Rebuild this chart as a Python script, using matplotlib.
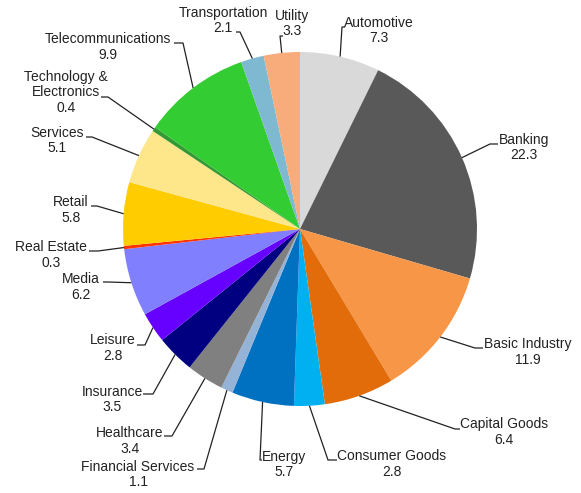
import numpy as np
import matplotlib.pyplot as plt

plt.rcParams['font.family'] = ['Liberation Sans', 'DejaVu Sans']

W, H = 581, 493

sectors = ['Automotive', 'Banking', 'Basic Industry', 'Capital Goods', 'Consumer Goods',
           'Energy', 'Financial Services', 'Healthcare', 'Insurance', 'Leisure', 'Media',
           'Real Estate', 'Retail', 'Services', 'Technology &\nElectronics',
           'Telecommunications', 'Transportation', 'Utility']
weights = [7.3, 22.3, 11.9, 6.4, 2.8, 5.7, 1.1, 3.4, 3.5, 2.8, 6.2, 0.3, 5.8, 5.1, 0.4,
           9.9, 2.1, 3.3]
colors = ['#d9d9d9', '#595959', '#f79646', '#e36c0a', '#00b0f0', '#0070c0', '#95b3d7',
          '#808080', '#000080', '#6600ff', '#8080ff', '#ff3300', '#ffcc00', '#fee68a',
          '#339933', '#33cc33', '#7eb9d1', '#f8ab7b']

# label placement in pixels: text centre x, text centre y, elbow x, elbow y, stub end x
label_pos = [
    (379, 30.5, 342, 27, 345),
    (524, 147.5, 490, 144, 498),
    (528, 352, 475, 348, 483),
    (504, 432, 455, 429, 460),
    (392, 464, 328, 460, 337),
    (284, 464.5, 260, 460, 262),
    (138, 474.5, 204, 469, 197),
    (130, 441, 172, 436, 164),
    (112, 399.5, 153, 394, 143),
    (113, 348, 145, 345, 137),
    (81, 287, 108, 282, 103),
    (51, 255, 98, 251, 89),
    (71, 210, 97, 206, 91),
    (57, 140.5, 92, 137, 86),
    (66, 92.5, 108, 97, 101),
    (108, 47, 183, 43, 174),
    (223, 20.5, 240, 32, 236),
    (292, 23.5, 280, 36, 283),
]

cx, cy, r = 300, H - 229, 177

fig = plt.figure(figsize=(W / 100, H / 100), dpi=100)
ax = fig.add_axes([0, 0, 1, 1])
wedges, _ = ax.pie(weights, colors=colors, startangle=90, counterclock=False,
                   center=(cx, cy), radius=r, wedgeprops=dict(linewidth=0))
ax.set_xlim(0, W)
ax.set_ylim(0, H)
ax.set_aspect('equal')
ax.axis('off')

for w, name, val, (tx, ty, ex, ey, sx) in zip(wedges, sectors, weights, label_pos):
    mid = np.radians((w.theta1 + w.theta2) / 2)
    px, py = cx + r * np.cos(mid), cy + r * np.sin(mid)
    ax.plot([px, ex, sx], [py, H - ey, H - ey], color='#222222', lw=0.9,
            solid_capstyle='butt')
    ax.text(tx, H - ty, f'{name}\n{val:.1f}', ha='center', va='center',
            fontsize=10, color='#222222', linespacing=1.15)

fig.savefig('out.png', dpi=100)
